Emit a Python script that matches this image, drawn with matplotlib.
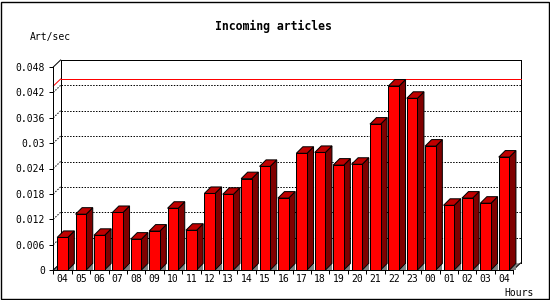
import matplotlib
matplotlib.use('Agg')
import matplotlib.pyplot as plt
from matplotlib.patches import Polygon, Rectangle

# hourly incoming article rate (articles per second)
hours = ['04', '05', '06', '07', '08', '09', '10', '11', '12', '13', '14', '15',
         '16', '17', '18', '19', '20', '21', '22', '23', '00', '01', '02', '03', '04']
rates = [0.0077, 0.0132, 0.0082, 0.0136, 0.0073, 0.0092, 0.0146, 0.0094,
         0.0181, 0.0179, 0.0216, 0.0245, 0.0170, 0.0276, 0.0278, 0.0248,
         0.0250, 0.0345, 0.0435, 0.0406, 0.0293, 0.0153, 0.0170, 0.0158, 0.0267]
yticks = [0, 0.006, 0.012, 0.018, 0.024, 0.03, 0.036, 0.042, 0.048]
ytick_labels = ['0', '0.006', '0.012', '0.018', '0.024', '0.03', '0.036', '0.042', '0.048']

W, H = 550, 300
PX = 0.72  # one pixel in points at dpi 100
FONT = 'DejaVu Sans Mono'

fig = plt.figure(figsize=(W / 100, H / 100), dpi=100)
ax = fig.add_axes([53.3 / W, 30 / H, 460 / W, 203 / H])
n = len(rates)
ymax = yticks[-1]
ax.set_xlim(-0.5, n - 0.5)
ax.set_ylim(0, ymax)

# pixel -> data unit conversion for the fake 3d depth
xpx = n / 460.0
ypx = ymax / 203.0
fdx, fdy = 7.3 * xpx, 7.0 * ypx   # frame depth
bdx, bdy = 6.5 * xpx, 6.5 * ypx   # bar depth
x0, x1 = -0.5, n - 0.5
width = 0.58

# back wall outline (straight pieces kept separate so they snap to pixels)
kw = dict(color='black', linewidth=PX, clip_on=False, zorder=2)
ax.plot([x0 + fdx, x1 + fdx], [ymax + fdy, ymax + fdy], **kw)
ax.plot([x0 + fdx, x0 + fdx], [fdy, ymax + fdy], **kw)
ax.plot([x1 + fdx, x1 + fdx], [fdy, ymax + fdy], **kw)
ax.plot([x0, x0 + fdx], [ymax, ymax + fdy], **kw)

# floor corners
l0 = -width / 2
ax.add_patch(Polygon([(x0, 0), (l0, 0), (l0, (l0 - x0) * fdy / fdx)], closed=True,
                     facecolor='#808080', edgecolor='none', clip_on=False, zorder=2))
ax.add_patch(Polygon([(x1, 0), (x1 + fdx, fdy), (n - 1 + width / 2 + bdx, bdy),
                      (n - 1 + width / 2 + bdx, 0)], closed=True,
                     facecolor='#808080', edgecolor='none', clip_on=False, zorder=2))
ax.plot([x1, x1 + fdx], [0, fdy], **kw)
ax.plot([x0, x0 + fdx], [0, fdy], **kw)

# dotted grid on the back wall
dash = dict(color='black', linewidth=PX, dashes=(2 * PX, 2 * PX), clip_on=False, zorder=2)
for g in yticks[1:-1]:
    ax.plot([x0, x0 + fdx], [g, g + fdy], **dash)
    ax.plot([x0 + fdx, x1 + fdx], [g + fdy, g + fdy], **dash)

# maximum line
top = max(rates)
ax.plot([x0, x0 + fdx], [top, top + fdy], color='red', linewidth=PX, clip_on=False, zorder=2)
ax.plot([x0 + fdx, x1 + fdx], [top + fdy, top + fdy], color='red', linewidth=PX,
        clip_on=False, zorder=2)

# bars: front face via bar(), then side, top and floor shadow
bars = ax.bar(range(n), rates, width=width, color='#ff0000', edgecolor='black',
              linewidth=PX, zorder=4)
for i, v in enumerate(rates):
    l = i - width / 2
    r = i + width / 2
    shadow = [(r, 0), (r + bdx, 0), (r + bdx, bdy)]
    side = [(r, 0), (r + bdx, bdy), (r + bdx, v + bdy), (r, v)]
    cap = [(l, v), (r, v), (r + bdx, v + bdy), (l + bdx, v + bdy)]
    ax.add_patch(Polygon(shadow, closed=True, facecolor='#808080', edgecolor='none',
                         zorder=3, clip_on=False))
    ax.add_patch(Polygon(side, closed=True, facecolor='#800000', edgecolor='black',
                         linewidth=PX, zorder=3, clip_on=False))
    ax.add_patch(Polygon(cap, closed=True, facecolor='#c00000', edgecolor='black',
                         linewidth=PX, zorder=3, clip_on=False))

# axes
for s in ['top', 'right']:
    ax.spines[s].set_visible(False)
for s in ['left', 'bottom']:
    ax.spines[s].set_linewidth(PX)
    ax.spines[s].set_zorder(5)
ax.set_yticks(yticks, ytick_labels)
ax.set_xticks([k - 0.5 for k in range(n + 1)], [])
ax.set_xticks(range(n), hours, minor=True)
ax.tick_params(axis='y', length=4 * PX, width=PX, pad=3, labelsize=7)
ax.tick_params(axis='x', which='major', length=4 * PX, width=PX)
ax.tick_params(axis='x', which='minor', length=0, pad=3, labelsize=7)
for t in ax.get_xticklabels(minor=True) + ax.get_yticklabels():
    t.set_fontfamily(FONT)
ax.patch.set_alpha(0)

fig.text(273.5 / W, 1 - 26.7 / H, 'Incoming articles', ha='center', va='center',
         fontsize=8.3, fontweight='bold', family=FONT)
fig.text(30 / W, 1 - 36.7 / H, 'Art/sec', ha='left', va='center', fontsize=7, family=FONT)
fig.text(504 / W, 1 - 292.7 / H, 'Hours', ha='left', va='center', fontsize=7, family=FONT)

fig.patches.append(Rectangle((1 / W, 1.5 / H), 547.5 / W, 297 / H, fill=False,
                             edgecolor='black', linewidth=1.4 * PX,
                             transform=fig.transFigure, figure=fig))

fig.savefig('out.png', dpi=100)
